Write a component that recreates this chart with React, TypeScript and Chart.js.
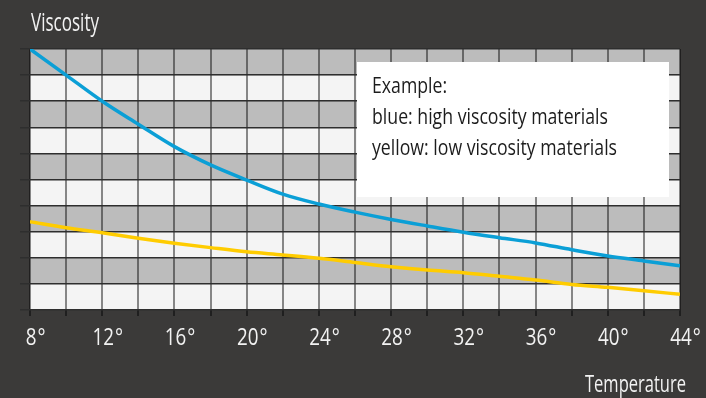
import React, { useEffect, useRef } from "react";
import { Chart, registerables } from "chart.js";

Chart.register(...registerables);

const temperatures = [8, 10, 12, 14, 16, 18, 20, 22, 24, 26, 28, 30, 32, 34, 36, 38, 40, 42, 44];
const highViscosity = [10.0, 9.0, 8.0, 7.12, 6.26, 5.56, 4.98, 4.44, 4.06, 3.75, 3.47, 3.22, 2.98, 2.77, 2.57, 2.31, 2.07, 1.88, 1.69];
const lowViscosity = [3.38, 3.15, 2.96, 2.75, 2.56, 2.39, 2.23, 2.11, 1.98, 1.82, 1.66, 1.53, 1.43, 1.29, 1.15, 0.98, 0.87, 0.74, 0.6];
const yTitle = "Viscosity";
const xTitle = "Temperature";
const noteLines = ["Example:", "blue: high viscosity materials", "yellow: low viscosity materials"];

const FONT = "'Open Sans', 'DejaVu Sans', sans-serif";
const BG = "#3b3a39";

// draw text horizontally condensed so that it spans a given width
function fitText(ctx: any, text: string, x: number, y: number, size: number, width: number, align: "left" | "right" | "center") {
  ctx.save();
  ctx.font = `${size}px ${FONT}`;
  ctx.textBaseline = "alphabetic";
  ctx.textAlign = "left";
  const w = ctx.measureText(text).width;
  const sx = width / w;
  let left = x;
  if (align === "right") left = x - width;
  if (align === "center") left = x - width / 2;
  ctx.translate(left, y);
  ctx.scale(sx, 1);
  ctx.fillText(text, 0, 0);
  ctx.restore();
}

const decorPlugin = {
  id: "decor",
  beforeDraw(chart: any) {
    const { ctx, chartArea, scales } = chart;
    ctx.save();
    ctx.fillStyle = BG;
    ctx.fillRect(0, 0, chart.width, chart.height);
    const y = scales.y;
    for (let i = 0; i < 10; i++) {
      const top = y.getPixelForValue(i + 1);
      const bot = y.getPixelForValue(i);
      ctx.fillStyle = i % 2 === 1 ? "#bcbcbc" : "#f4f4f4";
      ctx.fillRect(chartArea.left, top, chartArea.right - chartArea.left, bot - top);
    }
    ctx.restore();
  },
  afterDraw(chart: any) {
    const { ctx, chartArea, scales } = chart;
    ctx.save();
    ctx.fillStyle = "#f2f2f2";
    fitText(ctx, yTitle, chartArea.left + 1, 31, 25, 68, "left");
    fitText(ctx, xTitle, chart.width - 20, 392, 23, 101, "right");

    // x tick labels: number centred on the tick, degree sign after it
    const xs = scales.x;
    ctx.font = `24px ${FONT}`;
    const cond = 21.5 / ctx.measureText("12").width;
    xs.ticks.forEach((t: any) => {
      if (t.value % 4 !== 0) return;
      const px = xs.getPixelForValue(t.value);
      const num = String(t.value);
      ctx.font = `24px ${FONT}`;
      const nw = ctx.measureText(num).width * cond;
      fitText(ctx, num, px + 1, 345, 24, nw, "center");
      ctx.font = `24px ${FONT}`;
      const dw = ctx.measureText("°").width * cond;
      fitText(ctx, "°", px + 1 + nw / 2 + 1, 345, 24, dw, "left");
    });

    // note box
    const bx = 357, by = 62, bw = 312, bh = 135;
    ctx.fillStyle = "#ffffff";
    ctx.fillRect(bx, by, bw, bh);
    ctx.fillStyle = "#1c1c1c";
    ctx.font = `22px ${FONT}`;
    const base = ctx.measureText(noteLines[1]).width;
    const f = 236 / base;
    noteLines.forEach((t, i) => {
      ctx.font = `22px ${FONT}`;
      const w = ctx.measureText(t).width * f;
      fitText(ctx, t, bx + 15, by + 31 + i * 31, 22, w, "left");
    });
    ctx.restore();
  },
};

export default function App() {
  const ref = useRef<HTMLCanvasElement>(null);
  useEffect(() => {
    if (!ref.current) return;
    const chart = new Chart(ref.current, {
      type: "line",
      data: {
        labels: temperatures,
        datasets: [
          {
            label: "high viscosity",
            data: temperatures.map((t, i) => ({ x: t, y: highViscosity[i] })),
            borderColor: "#0b9fd6",
            borderWidth: 3.5,
            pointRadius: 0,
            cubicInterpolationMode: "monotone",
          },
          {
            label: "low viscosity",
            data: temperatures.map((t, i) => ({ x: t, y: lowViscosity[i] })),
            borderColor: "#ffcc00",
            borderWidth: 3.5,
            pointRadius: 0,
            cubicInterpolationMode: "monotone",
          },
        ],
      },
      options: {
        animation: false,
        responsive: false,
        layout: { padding: { top: 49, right: 26, left: 0, bottom: 0 } },
        plugins: { legend: { display: false }, tooltip: { enabled: false } },
        scales: {
          x: {
            type: "linear",
            min: 8,
            max: 44,
            afterFit: (s: any) => { s.height = 88; },
            border: { display: false },
            grid: { color: "rgba(0,0,0,0.45)", lineWidth: 2, tickLength: 6, drawTicks: true, tickColor: "rgba(20,20,20,0.7)" },
            ticks: {
              stepSize: 2,
              autoSkip: false,
              maxRotation: 0,
              padding: 4,
              color: "rgba(0,0,0,0)",
              font: { family: FONT, size: 14 },
              callback: (v: any) => (Number(v) % 4 === 0 ? `${v}°` : ""),
            },
          },
          y: {
            min: 0,
            max: 10,
            afterFit: (s: any) => { s.width = 30; },
            border: { display: false },
            grid: { color: "#2e2e2e", lineWidth: 1.5, tickLength: 10, drawTicks: true },
            ticks: { stepSize: 1, display: false },
          },
        },
      },
      plugins: [decorPlugin],
    } as any);
    return () => chart.destroy();
  }, []);
  return (
    <div style={{ position: "absolute", left: 0, top: 0, width: 706, height: 398 }}>
      <canvas ref={ref} width={706} height={398} style={{ display: "block" }} />
    </div>
  );
}
